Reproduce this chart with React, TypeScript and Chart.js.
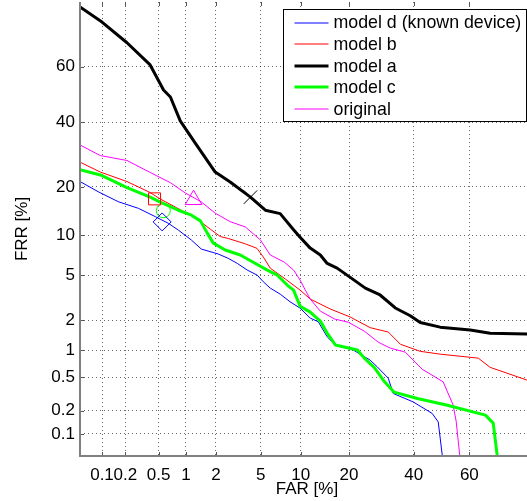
import React, { useEffect, useRef } from 'react';
import { Chart, registerables, Scale } from 'chart.js';

// ---------- data (percent) ----------
const tickValues = [0.1, 0.2, 0.5, 1, 2, 5, 10, 20, 40, 60];
const axisMin = 0.05;
const axisMax = 80;

const seriesLabels = ['model d (known device)', 'model b', 'model a', 'model c', 'original'];

const modelDFar = [0.05, 0.089, 0.163, 0.29, 0.46, 0.645, 0.83, 1.14, 1.44, 2.11, 2.61, 3.15, 3.85, 4.68, 5.24, 5.95, 7.1, 8.4, 9.9, 11.6, 13.1, 14.9, 16.7, 21.1, 25.8, 27.9, 31.4, 33.0, 39.8, 46.6, 48.8, 50.3];
const modelDFrr = [21.4, 18.8, 16.45, 15.0, 13.3, 12.05, 10.85, 9.26, 7.97, 7.32, 6.79, 6.21, 5.5, 5.0, 4.41, 3.9, 3.46, 2.96, 2.59, 2.09, 1.93, 1.37, 1.13, 1.0, 0.78, 0.66, 0.49, 0.325, 0.257, 0.185, 0.144, 0.05];

const modelBFar = [0.05, 0.095, 0.21, 0.40, 0.52, 0.80, 1.20, 1.41, 1.77, 2.20, 2.61, 3.7, 4.65, 5.24, 5.95, 7.75, 9.9, 11.6, 15.6, 20.3, 25.8, 31.4, 35.4, 42.3, 49.5, 63.1, 67.1, 78.2, 80];
const modelBFrr = [26.9, 24.0, 21.4, 18.6, 17.1, 15.1, 13.3, 12.35, 11.0, 9.8, 9.5, 8.7, 8.07, 6.95, 5.7, 4.65, 3.75, 3.13, 2.54, 2.14, 1.69, 1.53, 1.15, 0.97, 0.905, 0.82, 0.65, 0.466, 0.44];

const modelAFar = [0.05, 0.1, 0.21, 0.40, 0.57, 0.68, 0.87, 1.25, 1.97, 2.72, 4.1, 5.44, 7.1, 8.9, 9.9, 11.6, 13.5, 14.9, 17.1, 20.3, 24.4, 28.8, 33.7, 38.8, 42.3, 49.5, 60.3, 67.1, 78.2, 80];
const modelAFrr = [78.7, 74.5, 68.1, 60.6, 51.6, 49.1, 40.5, 32.9, 24.0, 21.3, 17.5, 14.6, 13.9, 10.9, 9.7, 8.1, 7.2, 6.2, 5.7, 4.8, 3.9, 3.4, 2.6, 2.2, 1.9, 1.71, 1.6, 1.49, 1.46, 1.46];

const modelCFar = [0.05, 0.095, 0.21, 0.40, 0.497, 0.83, 1.14, 1.41, 1.65, 1.89, 2.45, 3.35, 4.59, 5.64, 6.75, 8.0, 8.9, 9.9, 11.6, 13.5, 14.9, 16.7, 22.2, 24.1, 27.0, 29.8, 33.3, 41.3, 52.1, 65.5, 68.1, 69.4];
const modelCFrr = [24.7, 23.2, 19.85, 17.5, 16.6, 14.6, 13.6, 12.5, 10.35, 8.8, 7.85, 7.2, 6.14, 5.5, 5.0, 4.14, 3.75, 2.7, 2.38, 1.96, 1.49, 1.13, 1.0, 0.82, 0.65, 0.466, 0.337, 0.283, 0.234, 0.176, 0.139, 0.05];

const originalFar = [0.05, 0.095, 0.21, 0.40, 0.68, 0.985, 1.44, 1.97, 2.72, 3.7, 4.95, 5.95, 7.6, 8.9, 9.9, 10.75, 11.6, 13.5, 16.5, 19.8, 24.1, 28.2, 32.0, 37.1, 43.0, 50.6, 54.2, 55.3, 56.0, 56.6];
const originalFrr = [32.3, 28.9, 27.4, 23.9, 21.1, 18.5, 16.4, 14.0, 12.35, 11.4, 9.3, 7.2, 6.36, 5.5, 4.56, 3.75, 3.13, 2.43, 2.05, 1.91, 1.56, 1.21, 1.05, 0.95, 0.62, 0.445, 0.235, 0.147, 0.083, 0.05];

// operating-point markers (d, b, a, c, original)
const markerFar = [0.55, 0.45, 4.1, 0.567, 1.2];
const markerFrr = [12.3, 17.1, 17.5, 14.5, 16.9];

// ---------- styles ----------
const seriesColors = ['#0000ff', '#ff0000', '#000000', '#00ff00', '#ff00ff'];
const seriesWidths = [1, 1, 3, 3, 1];
const seriesOrder = [5, 4, 2, 1, 3];
const markerStyles = ['rectRot', 'rect', 'crossRot', 'circle', 'triangle'];
const markerRadii = [9, 8.5, 9.5, 7, 9.6];
const FONT = '"Liberation Sans", Arial, Helvetica, sans-serif';

// inverse normal CDF (Acklam)
function probit(p: number): number {
  const a = [-3.969683028665376e1, 2.209460984245205e2, -2.759285104469687e2, 1.38357751867269e2, -3.066479806614716e1, 2.506628277459239];
  const b = [-5.447609879822406e1, 1.615858368580409e2, -1.556989798598866e2, 6.680131188771972e1, -1.328068155288572e1];
  const c = [-7.784894002430293e-3, -3.223964580411365e-1, -2.400758277161838, -2.549671348283185, 4.374664141464968, 2.938163982698783];
  const d = [7.784695709041462e-3, 3.224671290700398e-1, 2.445134137142996, 3.754408661907416];
  const pl = 0.02425;
  if (p < pl) {
    const q = Math.sqrt(-2 * Math.log(p));
    return (((((c[0] * q + c[1]) * q + c[2]) * q + c[3]) * q + c[4]) * q + c[5]) / ((((d[0] * q + d[1]) * q + d[2]) * q + d[3]) * q + 1);
  }
  if (p <= 1 - pl) {
    const q = p - 0.5, r = q * q;
    return ((((((a[0] * r + a[1]) * r + a[2]) * r + a[3]) * r + a[4]) * r + a[5]) * q) / (((((b[0] * r + b[1]) * r + b[2]) * r + b[3]) * r + b[4]) * r + 1);
  }
  const q = Math.sqrt(-2 * Math.log(1 - p));
  return -(((((c[0] * q + c[1]) * q + c[2]) * q + c[3]) * q + c[4]) * q + c[5]) / ((((d[0] * q + d[1]) * q + d[2]) * q + d[3]) * q + 1);
}

class ProbitScale extends (Scale as any) {
  static id = 'probit';
  static defaults = {};
  determineDataLimits() {
    this.min = this.options.min;
    this.max = this.options.max;
  }
  buildTicks() {
    return tickValues.map((v) => ({ value: v }));
  }
  getLabelForValue(v: number) {
    return String(v);
  }
  configure() {
    super.configure();
    this._ps = probit(this.min / 100);
    this._pr = probit(this.max / 100) - this._ps;
  }
  getPixelForValue(v: number) {
    return this.getPixelForDecimal((probit(v / 100) - this._ps) / this._pr);
  }
  getValueForPixel(px: number) {
    const dec = this.getDecimalForPixel(px);
    return this.min + dec * (this.max - this.min);
  }
}

Chart.register(...registerables, ProbitScale as any);

const toPoints = (xs: number[], ys: number[]) => xs.map((x, i) => ({ x, y: ys[i] }));

const decorPlugin = {
  id: 'decor',
  afterDatasetsDraw(chart: any) {
    const { ctx, chartArea: a, scales } = chart;
    ctx.save();
    // inward tick marks
    ctx.strokeStyle = '#555555';
    ctx.lineWidth = 1;
    ctx.beginPath();
    tickValues.forEach((v) => {
      const x = Math.round(scales.x.getPixelForValue(v)) + 0.5;
      ctx.moveTo(x, a.bottom);
      ctx.lineTo(x, a.bottom - 4);
      ctx.moveTo(x, a.top);
      ctx.lineTo(x, a.top + 4);
      const y = Math.round(scales.y.getPixelForValue(v)) + 0.5;
      ctx.moveTo(a.left, y);
      ctx.lineTo(a.left + 4, y);
    });
    ctx.stroke();
    // axes
    ctx.strokeStyle = '#808080';
    ctx.lineWidth = 2;
    ctx.beginPath();
    ctx.moveTo(a.left, a.top);
    ctx.lineTo(a.left, a.bottom);
    ctx.lineTo(a.right, a.bottom);
    ctx.stroke();
    ctx.restore();
  },
  afterDraw(chart: any) {
    const { ctx, chartArea: a } = chart;
    const left = a.right - 250.5;
    const top = a.top + 7.5;
    const w = 243;
    const h = 112;
    ctx.save();
    ctx.fillStyle = '#ffffff';
    ctx.fillRect(left, top, w, h);
    ctx.strokeStyle = '#000000';
    ctx.lineWidth = 1;
    ctx.strokeRect(left, top, w, h);
    ctx.font = `17.8px ${FONT}`;
    ctx.textBaseline = 'middle';
    ctx.textAlign = 'left';
    seriesLabels.forEach((label, i) => {
      const y = top + 13 + i * 21.6;
      ctx.strokeStyle = seriesColors[i];
      ctx.lineWidth = seriesWidths[i];
      ctx.beginPath();
      ctx.moveTo(left + 11, Math.round(y));
      ctx.lineTo(left + 45, Math.round(y));
      ctx.stroke();
      ctx.fillStyle = '#000000';
      ctx.fillText(label, left + 50, y + 1);
    });
    ctx.restore();
  },
};

export default function App() {
  const ref = useRef<HTMLCanvasElement | null>(null);
  useEffect(() => {
    if (!ref.current) return;
    const lineSets = [
      [modelDFar, modelDFrr],
      [modelBFar, modelBFrr],
      [modelAFar, modelAFrr],
      [modelCFar, modelCFrr],
      [originalFar, originalFrr],
    ].map(([xs, ys], i) => ({
      label: seriesLabels[i],
      data: toPoints(xs, ys),
      borderColor: seriesColors[i],
      backgroundColor: seriesColors[i],
      borderWidth: seriesWidths[i],
      pointRadius: 0,
      tension: 0,
      fill: false,
      order: seriesOrder[i],
      borderJoinStyle: 'round',
    }));
    const markerSets = markerFar.map((x, i) => ({
      label: seriesLabels[i] + ' marker',
      data: [{ x, y: markerFrr[i] }],
      showLine: false,
      pointStyle: markerStyles[i],
      pointRadius: markerRadii[i],
      borderColor: seriesColors[i],
      backgroundColor: 'rgba(0,0,0,0)',
      pointBorderWidth: 1,
      borderWidth: 1,
      order: 0,
    }));
    const axisCommon = (title: string, isX: boolean) => ({
      type: 'probit',
      min: axisMin,
      max: axisMax,
      afterFit: (s: any) => {
        if (isX) s.height = 45;
        else s.width = 80;
        s.paddingTop = 0;
        s.paddingBottom = 0;
        s.paddingLeft = 0;
        s.paddingRight = 0;
      },
      grid: {
        display: true,
        drawTicks: false,
        color: 'rgba(0,0,0,0.6)',
        lineWidth: 1,
      },
      border: { display: false, dash: [1, 3] },
      ticks: {
        autoSkip: false,
        maxRotation: 0,
        minRotation: 0,
        padding: isX ? 9 : 5,
        color: '#000000',
        font: { family: FONT, size: 17 },
        callback: (v: any) => String(v),
      },
      title: {
        display: true,
        text: title,
        color: '#000000',
        font: { family: FONT, size: 17 },
        padding: isX ? { top: 0, bottom: 1 } : { top: 12, bottom: 0 },
      },
    });
    const chart = new Chart(ref.current, {
      type: 'line',
      data: { datasets: [...lineSets, ...markerSets] as any },
      options: {
        animation: false,
        responsive: false,
        devicePixelRatio: 1,
        events: [],
        layout: { autoPadding: false, padding: { left: 0, top: 2, right: 26, bottom: 0 } },
        plugins: { legend: { display: false }, tooltip: { enabled: false } },
        scales: {
          x: axisCommon('FAR [%]', true),
          y: axisCommon('FRR [%]', false),
        } as any,
      },
      plugins: [decorPlugin as any],
    });
    return () => chart.destroy();
  }, []);
  return (
    <div style={{ position: 'absolute', left: 0, top: 0, width: 527, height: 501, overflow: 'hidden', background: '#fff' }}>
      <canvas ref={ref} width={560} height={501} style={{ display: 'block' }} />
    </div>
  );
}
